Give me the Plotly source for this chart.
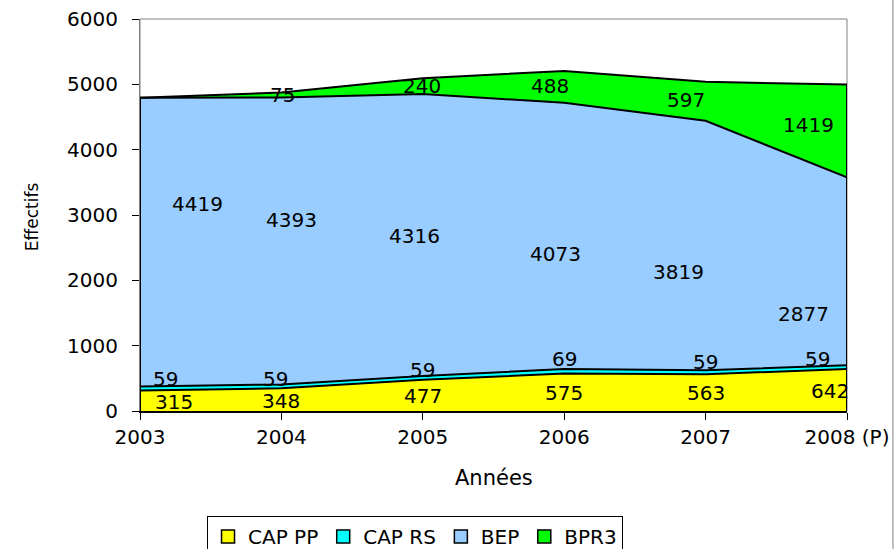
import plotly.graph_objects as go

years = ["2003", "2004", "2005", "2006", "2007", "2008 (P)"]
cap_pp = [315, 348, 477, 575, 563, 642]
cap_rs = [59, 59, 59, 69, 59, 59]
bep = [4419, 4393, 4316, 4073, 3819, 2877]
bpr3 = [0, 75, 240, 488, 597, 1419]

series_names = ["CAP PP", "CAP RS", "BEP", "BPR3"]
series_vals = [cap_pp, cap_rs, bep, bpr3]
colors = ["#FFFF00", "#00FFFF", "#99CCFF", "#00FF00"]

# label pixel offsets (dx right, dy down) relative to category / segment middle
label_dx = [
    [34, 0, 0, 0, 0, -17],
    [25, -6, 0, 0, 0, -30],
    [57, 10, -8, -9, -27, -44],
    [0, 1, -1, -14, -20, -39],
]
label_dy = [
    [1, 1, 1, 1, 0, 1],
    [-9, -7, -8, -12, -10, -8],
    [-38, -21, 1, 18, 26, 43],
    [0, 0, 0, -1, -1, -6],
]

FONT = "DejaVu Sans"
xs = list(range(len(years)))

fig = go.Figure()
for name, vals, col in zip(series_names, series_vals, colors):
    fig.add_trace(go.Scatter(
        x=xs, y=vals, mode="lines", stackgroup="one", name=name,
        line=dict(color="black", width=2), fillcolor=col, showlegend=False,
        hoverinfo="skip"))
for name, col in zip(series_names, colors):
    fig.add_trace(go.Scatter(
        x=[None], y=[None], mode="markers", name=name,
        marker=dict(symbol="square", size=13, color=col,
                    line=dict(color="black", width=1.5))))

annotations = []
base = [0] * len(years)
for s, vals in enumerate(series_vals):
    for i, v in enumerate(vals):
        mid = base[i] + v / 2
        if v > 0:
            annotations.append(dict(
                x=xs[i], y=mid, xref="x", yref="y", text=str(v), showarrow=False,
                xshift=label_dx[s][i], yshift=-label_dy[s][i],
                font=dict(family=FONT, size=20, color="black"),
                xanchor="center", yanchor="middle"))
        base[i] += v
totals = base

annotations.append(dict(x=0.5, y=-0.171, xref="paper", yref="paper", text="Années",
                        showarrow=False, font=dict(family=FONT, size=21, color="black"),
                        xanchor="center", yanchor="middle"))
annotations.append(dict(x=-0.1528, y=0.497, xref="paper", yref="paper", text="Effectifs",
                        showarrow=False, textangle=-90,
                        font=dict(family=FONT, size=17, color="black"),
                        xanchor="center", yanchor="middle"))

shapes = [
    dict(type="rect", xref="paper", yref="paper", x0=0, x1=1, y0=0, y1=1,
         line=dict(color="#808080", width=1), layer="below"),
    dict(type="line", xref="x", yref="y", x0=xs[-1], x1=xs[-1], y0=0, y1=totals[-1],
         line=dict(color="black", width=2)),
    dict(type="line", xref="x", yref="y", x0=xs[0], x1=xs[0], y0=0, y1=totals[0],
         line=dict(color="black", width=2)),
    dict(type="line", xref="paper", yref="paper", x0=1.065, x1=1.065, y0=-1, y1=2,
         line=dict(color="#808080", width=1)),
]

fig.update_layout(
    width=895, height=549,
    margin=dict(l=140, r=48, t=19, b=138, autoexpand=False),
    paper_bgcolor="white", plot_bgcolor="white",
    font=dict(family=FONT, size=20, color="black"),
    showlegend=True,
    legend=dict(orientation="h", x=0.0948, y=-0.268, xanchor="left", yanchor="top",
                bordercolor="black", borderwidth=1, bgcolor="white",
                font=dict(family=FONT, size=20, color="black"),
                itemwidth=30, traceorder="normal"),
    annotations=annotations,
    shapes=shapes,
)
fig.update_xaxes(range=[0, 5], tickmode="array", tickvals=xs, ticktext=years,
                 showgrid=False, zeroline=False, showline=True, linecolor="black",
                 linewidth=2, ticks="outside", ticklen=7, tickcolor="black",
                 tickfont=dict(family=FONT, size=20), fixedrange=True)
fig.update_yaxes(range=[0, 6000], dtick=1000, showgrid=False, zeroline=False,
                 showline=True, linecolor="#808080", linewidth=1, ticks="outside",
                 ticklen=7, tickcolor="black", ticklabelstandoff=10,
                 tickfont=dict(family=FONT, size=20), fixedrange=True)

fig.write_html("out.html", config={"displayModeBar": False},
               post_script="document.body.style.margin='0px';document.body.style.overflow='hidden';")
